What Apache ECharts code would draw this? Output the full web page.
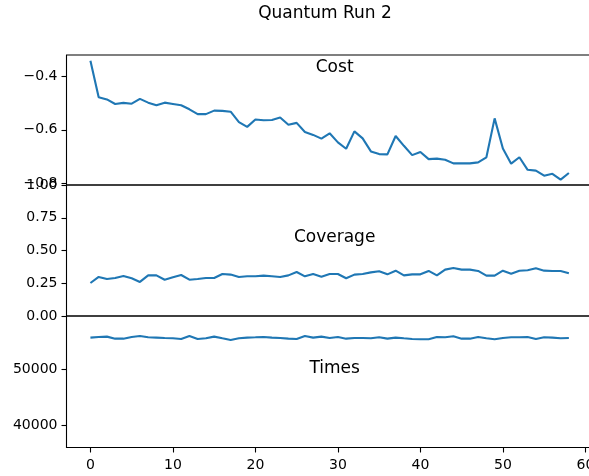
<!DOCTYPE html>
<html>
<head>
    <meta charset="utf-8"/>
    <title>Quantum Run 2</title>
    <script src="https://cdn.jsdelivr.net/npm/echarts@6/dist/echarts.min.js"></script>
</head>
<body style="margin:0">
<div id="main" style="width: 589px; height: 476px"></div>
<script type="text/javascript">
    // values
    var cost = [-0.341, -0.478, -0.486, -0.503, -0.499, -0.502, -0.484, -0.498, -0.508, -0.498,
        -0.503, -0.508, -0.523, -0.541, -0.541, -0.528, -0.529, -0.532, -0.571, -0.589,
        -0.561, -0.564, -0.563, -0.554, -0.581, -0.574, -0.608, -0.619, -0.633, -0.613,
        -0.647, -0.671, -0.606, -0.632, -0.681, -0.691, -0.692, -0.623, -0.660, -0.695,
        -0.683, -0.710, -0.708, -0.712, -0.726, -0.726, -0.726, -0.722, -0.703, -0.557,
        -0.670, -0.727, -0.703, -0.750, -0.753, -0.772, -0.765, -0.787, -0.762];
    var coverage = [0.252, 0.298, 0.282, 0.290, 0.305, 0.288, 0.260, 0.310, 0.310, 0.277,
        0.295, 0.313, 0.277, 0.282, 0.290, 0.290, 0.321, 0.316, 0.298, 0.303,
        0.303, 0.308, 0.303, 0.298, 0.310, 0.336, 0.303, 0.321, 0.300, 0.321,
        0.321, 0.288, 0.316, 0.321, 0.333, 0.341, 0.318, 0.346, 0.310, 0.318,
        0.318, 0.344, 0.310, 0.354, 0.366, 0.354, 0.354, 0.344, 0.308, 0.308,
        0.346, 0.323, 0.346, 0.349, 0.364, 0.346, 0.344, 0.344, 0.326];
    var times = [55600, 55715, 55775, 55415, 55415, 55715, 55895, 55655, 55600, 55535,
        55475, 55360, 55895, 55360, 55475, 55775, 55475, 55180, 55475, 55600,
        55655, 55715, 55600, 55535, 55415, 55360, 55895, 55600, 55775, 55535,
        55715, 55415, 55535, 55535, 55475, 55655, 55415, 55600, 55475, 55360,
        55300, 55300, 55715, 55655, 55835, 55415, 55415, 55715, 55475, 55300,
        55535, 55655, 55655, 55715, 55360, 55655, 55600, 55475, 55535];
    var xTicks = [0, 10, 20, 30, 40, 50, 60];
    var costTicks = [-0.8, -0.6, -0.4];
    var coverageTicks = [0, 0.25, 0.5, 0.75, 1];
    var timesTicks = [40000, 50000];
    var panelNames = ['Cost', 'Coverage', 'Times'];

    var myChart = echarts.init(document.getElementById("main"));

    var font = 'DejaVu Sans';
    var left = 66.5, width = 526.3;
    var tops = [55, 185, 316], heights = [130, 131, 131.5];

    function pairs(arr) {
        return arr.map(function (v, i) { return [i, v]; });
    }
    function minus(s) { return s.replace('-', '\u2212'); }

    var grids = tops.map(function (t, k) {
        return {left: left, top: t, width: width, height: heights[k], show: true,
            outerBoundsMode: 'none', containLabel: false,
            borderColor: '#000', borderWidth: 1.1, backgroundColor: 'transparent'};
    });

    var xAxes = [0, 1, 2].map(function (k) {
        return {
            type: 'value', gridIndex: k, min: -2.9, max: 60.9,
            axisLine: {show: false, onZero: false},
            splitLine: {show: false},
            axisTick: {show: k === 2, customValues: xTicks, length: 5, lineStyle: {color: '#000', width: 1.1}},
            axisLabel: {show: k === 2, customValues: xTicks, margin: 11, color: '#000',
                fontFamily: font, fontSize: 14, hideOverlap: false}
        };
    });

    var yConf = [
        {min: -0.807, max: -0.3193, ticks: costTicks, fmt: function (v) { return minus(v.toFixed(1)); }},
        {min: 0, max: 1, ticks: coverageTicks, fmt: function (v) { return v.toFixed(2); }},
        {min: 35980, max: 59460, ticks: timesTicks, fmt: function (v) { return String(v); }}
    ];
    var yAxes = yConf.map(function (c, k) {
        return {
            type: 'value', gridIndex: k, min: c.min, max: c.max,
            axisLine: {show: false, onZero: false},
            splitLine: {show: false},
            axisTick: {show: true, customValues: c.ticks, length: 5, lineStyle: {color: '#000', width: 1.1}},
            axisLabel: {customValues: c.ticks, formatter: c.fmt, margin: 9, color: '#000',
                fontFamily: font, fontSize: 14, hideOverlap: false}
        };
    });

    var titleTops = [54, 224, 355];
    var titles = [{text: 'Quantum Run 2', left: 320, top: 0, textAlign: 'center',
        textStyle: {fontFamily: font, fontSize: 17, fontWeight: 'normal', color: '#000'}}];
    panelNames.forEach(function (n, k) {
        titles.push({text: n, left: left + width / 2, top: titleTops[k], textAlign: 'center',
            textStyle: {fontFamily: font, fontSize: 17, fontWeight: 'normal', color: '#000'}});
    });

    var series = [cost, coverage, times].map(function (arr, k) {
        return {type: 'line', xAxisIndex: k, yAxisIndex: k, data: pairs(arr),
            showSymbol: false, symbol: 'none', lineStyle: {color: '#1f77b4', width: 2.1}};
    });

    var option = {
        animation: false,
        title: titles,
        grid: grids,
        xAxis: xAxes,
        yAxis: yAxes,
        series: series
    };

    myChart.setOption(option);
</script>
</body>
</html>
